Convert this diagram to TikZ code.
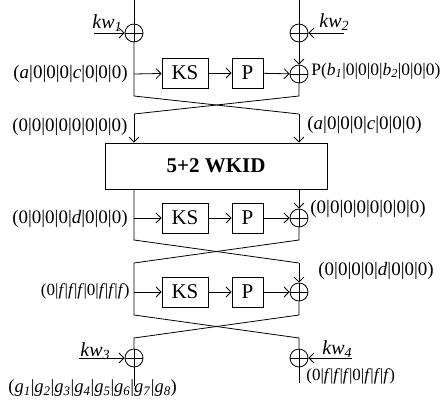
\documentclass[tikz,border=0pt]{standalone}
\usepackage{fontspec}
\setmainfont{Liberation Serif}
\usetikzlibrary{arrows.meta}
\newcommand\gsub[2]{\textit{#1}\textsubscript{\textit{#2}}}
\newcommand\fv{\textit{f}\kern-0.6pt}
\begin{document}
\begin{tikzpicture}[x=1pt,y=-1pt, line width=0.8pt,
  >={Straight Barb[length=5pt,width=10pt]},
  box/.style={draw, minimum width=46pt, minimum height=30pt, inner sep=0pt, font=\fontsize{21}{23}\selectfont},
  pbox/.style={box, minimum width=31pt},
  xor/.style={draw, circle, minimum size=18pt, inner sep=0pt,
    path picture={\draw (path picture bounding box.north) -- (path picture bounding box.south)
      (path picture bounding box.west) -- (path picture bounding box.east);}},
  lab/.style={inner sep=0pt, font=\fontsize{19}{21}\selectfont},
  flab/.style={inner sep=0pt, font=\fontsize{17}{19}\selectfont},
  kwlab/.style={inner sep=0pt, anchor=base west, font=\fontsize{20}{22}\selectfont\itshape}]
\useasboundingbox (0,0) rectangle (447,405);

% stage 1
\coordinate (t1) at (134,0);
\coordinate (t2) at (299,0);
\node[xor] (x1) at (134,33) {};
\node[xor] (x2) at (299,33) {};
\node[xor] (x3) at (299,74) {};
\node[box] (ks1) at (185,73) {KS};
\node[pbox] (p1) at (247.5,73) {P};
\coordinate (k1) at (94,33);
\coordinate (k2) at (344,33);
\coordinate (a1) at (134,74);
\coordinate (c1) at (134,96);
\coordinate (c2) at (299,96);
\coordinate (d1) at (134,114);
\coordinate (d2) at (299,114);
\node[draw, minimum width=222pt, minimum height=46pt, inner sep=0pt,
  font=\fontsize{21}{23}\selectfont\bfseries] (w) at (216,166) {5+2 WKID};

\draw (t1) -- (x1);
\draw (t2) -- (x2);
\draw[->] (k1) -- (x1);
\draw[->] (k2) -- (x2);
\draw[->] (x2) -- (x3);
\draw[->] (a1) -- (ks1);
\draw[->] (ks1) -- (p1);
\draw[->] (p1) -- (x3);
\draw (x1) -- (c1) -- (d2);
\draw (x3) -- (c2) -- (d1);
\draw[->] (d1) -- (w.north -| d1);
\draw[->] (d2) -- (w.north -| d2);

\node[kwlab] (kw1) at (92,28) {kw\textsubscript{1}};
\node[kwlab] (kw2) at (319,27) {kw\textsubscript{2}};
\node[lab, anchor=east] (l1) at (128,74) {(\textit{a}|0|0|0|\textit{c}|0|0|0)};
\node[lab, anchor=west, font=\fontsize{17.5}{19}\selectfont] (r1) at (311,71) {P(\gsub{b}{1}|0|0|0|\gsub{b}{2}|0|0|0)};
\node[lab, anchor=east] (l2) at (128,127) {(0|0|0|0|0|0|0|0)};
\node[lab, anchor=west] (r2) at (307,125) {(\textit{a}|0|0|0|\textit{c}|0|0|0)};

% stage 2
\node[box] (ks2) at (185,218) {KS};
\node[pbox] (p2) at (247.5,218) {P};
\node[xor] (x4) at (299,218) {};
\coordinate (a2) at (134,218);
\coordinate (e1) at (134,240);
\coordinate (e2) at (299,240);
\coordinate (f1) at (134,263);
\coordinate (f2) at (299,263);
\draw (w.south -| e1) -- (e1) -- (f2);
\draw[->] (w.south -| x4) -- (x4);
\draw (x4) -- (e2) -- (f1);
\draw[->] (a2) -- (ks2);
\draw[->] (ks2) -- (p2);
\draw[->] (p2) -- (x4);
\node[lab, anchor=east] (l3) at (128,219) {(0|0|0|0|\textit{d}|0|0|0)};
\node[lab, anchor=west] (r3) at (310,209) {(0|0|0|0|0|0|0|0)};

% stage 3
\node[box] (ks3) at (185,292) {KS};
\node[pbox] (p3) at (247.5,292) {P};
\node[xor] (x5) at (299,292) {};
\coordinate (a3) at (134,292);
\coordinate (g1) at (134,315);
\coordinate (g2) at (299,315);
\coordinate (h1) at (134,338);
\coordinate (h2) at (299,338);
\node[xor] (x6) at (134,358) {};
\node[xor] (x7) at (299,358) {};
\coordinate (k3) at (79,358);
\coordinate (k4) at (352,358);
\coordinate (b1) at (134,386);
\coordinate (b2) at (299,383);
\draw (f1) -- (g1) -- (h2) -- (x7);
\draw[->] (f2) -- (x5);
\draw (x5) -- (g2) -- (h1) -- (x6);
\draw[->] (a3) -- (ks3);
\draw[->] (ks3) -- (p3);
\draw[->] (p3) -- (x5);
\draw[->] (k3) -- (x6);
\draw[->] (k4) -- (x7);
\node[flab, anchor=east] (l4) at (130,291) {(0|\fv|\fv|\fv|0|\fv|\fv|\fv)};
\node[lab, anchor=west] (r4) at (318,271) {(0|0|0|0|\textit{d}|0|0|0)};
\node[kwlab] (kw3) at (80,356) {kw\textsubscript{3}};
\node[kwlab] (kw4) at (322,354) {kw\textsubscript{4}};
\node[lab, anchor=west, font=\fontsize{18.5}{20}\selectfont] (l5) at (8,388) {(\gsub{g}{1}|\gsub{g}{2}|\gsub{g}{3}|\gsub{g}{4}|\gsub{g}{5}|\gsub{g}{6}|\gsub{g}{7}|\gsub{g}{8})};
\node[flab, anchor=west] (r5) at (306,376) {(0|\fv|\fv|\fv|0|\fv|\fv|\fv)};
\draw (x6) -- (b1);
\draw (x7) -- (b2);
\end{tikzpicture}
\end{document}
